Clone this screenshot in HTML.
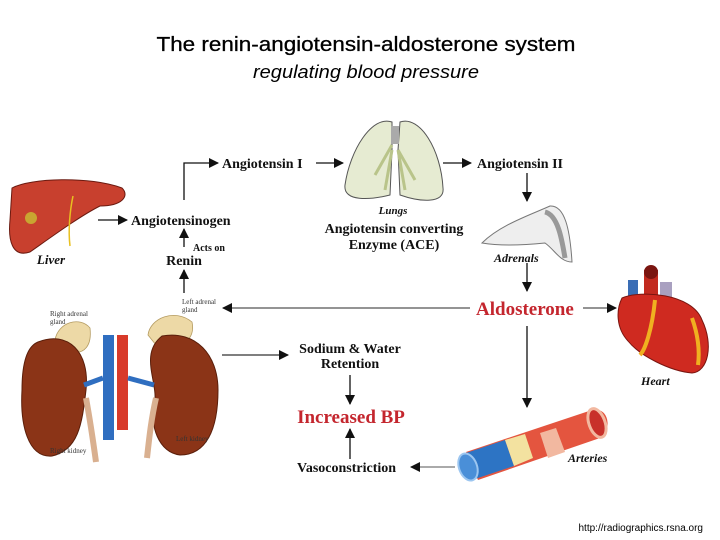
<!DOCTYPE html>
<html><head><meta charset="utf-8"><style>
html,body{margin:0;padding:0;background:#fff;}
svg{display:block;}
.b{font-family:"Liberation Serif",serif;font-weight:bold;fill:#111;}
.i{font-family:"Liberation Serif",serif;font-weight:bold;font-style:italic;fill:#111;}
.r{font-family:"Liberation Serif",serif;font-weight:bold;fill:#c4262e;}
.s{font-family:"Liberation Serif",serif;fill:#333;font-size:7px;}
</style></head><body>
<svg width="720" height="540" viewBox="0 0 720 540" xmlns="http://www.w3.org/2000/svg">
<defs>
<marker id="a" markerWidth="10" markerHeight="10" refX="9" refY="5" orient="auto" markerUnits="userSpaceOnUse"><path d="M0,0 L10,5 L0,10 z" fill="#111"/></marker>
</defs>
<text x="366" y="51" text-anchor="middle" font-family="Liberation Sans,sans-serif" font-size="20" textLength="419" lengthAdjust="spacingAndGlyphs" fill="#000" stroke="#000" stroke-width="0.3">The renin-angiotensin-aldosterone system</text>
<text x="366" y="78" text-anchor="middle" font-family="Liberation Sans,sans-serif" font-style="italic" font-size="18" textLength="226" lengthAdjust="spacingAndGlyphs" fill="#000">regulating blood pressure</text>

<!-- lungs -->
<g>
<path d="M392,122 C372,115 350,150 345,185 C343,202 370,200 390,195 L392,150 z" fill="#e6ebd2" stroke="#555" stroke-width="1"/>
<path d="M400,122 C420,115 441,150 443,188 C445,204 420,202 400,195 L398,150 z" fill="#e6ebd2" stroke="#555" stroke-width="1"/>
<rect x="391" y="126" width="8" height="18" fill="#aaa"/>
<path d="M392,145 L375,175 M392,150 L385,190 M398,150 L415,180 M398,150 L405,190" stroke="#b9c48a" stroke-width="3" fill="none"/>
</g>
<text x="393" y="214" text-anchor="middle" class="i" font-size="11">Lungs</text>
<text x="394" y="233" text-anchor="middle" class="b" font-size="14">Angiotensin converting</text>
<text x="394" y="249" text-anchor="middle" class="b" font-size="14">Enzyme (ACE)</text>

<!-- liver -->
<path d="M12,188 C30,178 90,176 122,188 C130,196 122,206 100,206 C80,216 50,238 30,252 C12,258 8,240 10,220 z" fill="#c8402e" stroke="#6b1a10" stroke-width="1"/>
<circle cx="31" cy="218" r="6" fill="#c9a531"/>
<path d="M73,196 C70,210 68,230 70,246" stroke="#e8c020" stroke-width="1.5" fill="none"/>
<text x="51" y="264" text-anchor="middle" class="i" font-size="13">Liver</text>
<line x1="98" y1="220" x2="127" y2="220" stroke="#111" stroke-width="1.3" marker-end="url(#a)"/>
<text x="131" y="225" class="b" font-size="14">Angiotensinogen</text>
<polyline points="184,200 184,163 218,163" fill="none" stroke="#111" stroke-width="1.3" marker-end="url(#a)"/>
<text x="222" y="168" class="b" font-size="14">Angiotensin I</text>
<line x1="316" y1="163" x2="343" y2="163" stroke="#111" stroke-width="1.3" marker-end="url(#a)"/>
<line x1="443" y1="163" x2="471" y2="163" stroke="#111" stroke-width="1.3" marker-end="url(#a)"/>
<text x="477" y="168" class="b" font-size="14">Angiotensin II</text>
<line x1="527" y1="173" x2="527" y2="201" stroke="#111" stroke-width="1.3" marker-end="url(#a)"/>

<!-- adrenals -->
<path d="M482,243 C500,225 530,215 550,206 C565,205 570,230 572,262 C560,262 555,250 545,243 C525,245 500,246 482,243 z" fill="#eee" stroke="#777" stroke-width="1"/>
<path d="M545,212 C558,215 562,240 565,258" stroke="#999" stroke-width="5" fill="none"/>
<text x="494" y="262" class="i" font-size="12">Adrenals</text>
<line x1="527" y1="263" x2="527" y2="291" stroke="#111" stroke-width="1.3" marker-end="url(#a)"/>

<text x="476" y="315" class="r" font-size="19">Aldosterone</text>
<line x1="470" y1="308" x2="223" y2="308" stroke="#555" stroke-width="1.2" marker-end="url(#a)"/>
<line x1="583" y1="308" x2="616" y2="308" stroke="#555" stroke-width="1.2" marker-end="url(#a)"/>
<line x1="527" y1="326" x2="527" y2="407" stroke="#111" stroke-width="1.3" marker-end="url(#a)"/>

<!-- heart -->
<rect x="628" y="280" width="10" height="30" fill="#3a6db5"/>
<rect x="644" y="270" width="14" height="38" fill="#c22a1f"/>
<circle cx="651" cy="272" r="7" fill="#7a1510"/>
<rect x="660" y="282" width="12" height="24" fill="#a9a0c0"/>
<path d="M622,298 C640,290 692,293 702,320 C714,345 708,372 692,373 C670,371 640,356 628,341 C616,328 616,310 622,298 z" fill="#cf2a20" stroke="#7a1510" stroke-width="1"/>
<path d="M655,300 C652,330 645,350 640,355 M692,318 C698,335 700,350 698,365" stroke="#f0b020" stroke-width="4" fill="none"/>
<text x="641" y="385" class="i" font-size="12">Heart</text>

<!-- arteries -->
<path d="M466,452 L592,410 C610,406 612,432 600,438 L478,480 z" fill="#e4553f"/>
<ellipse cx="597" cy="423" rx="8" ry="15" fill="#c8302a" stroke="#f2b8a0" stroke-width="3" transform="rotate(-20 597 423)"/>
<path d="M540,433 L556,428 L565,452 L548,458 z" fill="#f2b8a0"/>
<path d="M463,454 L505,440 L514,466 L472,480 z" fill="#2d74c4"/>
<path d="M505,440 L525,434 L533,458 L514,466 z" fill="#f3e2a0"/>
<ellipse cx="468" cy="467" rx="9" ry="14" fill="#4a8fd8" stroke="#9cc6f0" stroke-width="2" transform="rotate(-20 468 467)"/>
<text x="568" y="462" class="i" font-size="12">Arteries</text>
<line x1="455" y1="467" x2="411" y2="467" stroke="#777" stroke-width="1.3" marker-end="url(#a)"/>
<text x="297" y="472" class="b" font-size="14">Vasoconstriction</text>
<line x1="350" y1="459" x2="350" y2="429" stroke="#111" stroke-width="1.3" marker-end="url(#a)"/>
<text x="351" y="423" text-anchor="middle" class="r" font-size="19">Increased BP</text>
<line x1="350" y1="375" x2="350" y2="404" stroke="#111" stroke-width="1.3" marker-end="url(#a)"/>
<text x="350" y="353" text-anchor="middle" class="b" font-size="14">Sodium &amp; Water</text>
<text x="350" y="368" text-anchor="middle" class="b" font-size="14">Retention</text>
<line x1="222" y1="355" x2="288" y2="355" stroke="#333" stroke-width="1.2" marker-end="url(#a)"/>

<line x1="184" y1="247" x2="184" y2="229" stroke="#111" stroke-width="1.3" marker-end="url(#a)"/>
<text x="193" y="251" class="b" font-size="10">Acts on</text>
<text x="184" y="265" text-anchor="middle" class="b" font-size="14">Renin</text>
<line x1="184" y1="293" x2="184" y2="270" stroke="#111" stroke-width="1.3" marker-end="url(#a)"/>

<!-- kidneys -->
<text x="182" y="304" class="s">Left adrenal</text>
<text x="182" y="312" class="s">gland</text>
<text x="50" y="316" class="s">Right adrenal</text>
<text x="50" y="324" class="s">gland</text>
<path d="M55,340 C58,322 80,316 90,328 C92,345 85,355 70,352 z" fill="#edd9a6" stroke="#b59c62" stroke-width="0.8"/>
<path d="M148,335 C150,318 175,308 192,322 C196,340 180,350 160,350 z" fill="#edd9a6" stroke="#b59c62" stroke-width="0.8"/>
<path d="M38,342 C68,330 90,352 86,390 C82,425 78,450 52,456 C28,458 20,425 22,390 C22,360 28,346 38,342 z" fill="#8b3417" stroke="#5a1e0a" stroke-width="1"/>
<path d="M162,336 C196,330 218,355 218,390 C218,430 206,455 180,455 C158,452 150,425 154,405 C160,385 138,355 162,336 z" fill="#8b3417" stroke="#5a1e0a" stroke-width="1"/>
<rect x="103" y="335" width="11" height="105" fill="#2f6ec0"/>
<rect x="117" y="335" width="11" height="95" fill="#d83a2a"/>
<path d="M84,385 L103,378 M128,378 L154,385" stroke="#2f6ec0" stroke-width="5"/>
<path d="M86,398 C90,420 93,440 96,462 M156,398 C151,420 149,440 147,458" stroke="#d9b090" stroke-width="6" fill="none"/>
<text x="176" y="441" class="s">Left kidney</text>
<text x="50" y="453" class="s">Right kidney</text>

<text x="703" y="531" text-anchor="end" font-family="Liberation Sans,sans-serif" font-size="10" fill="#000">http://radiographics.rsna.org</text>
</svg>
</body></html>
